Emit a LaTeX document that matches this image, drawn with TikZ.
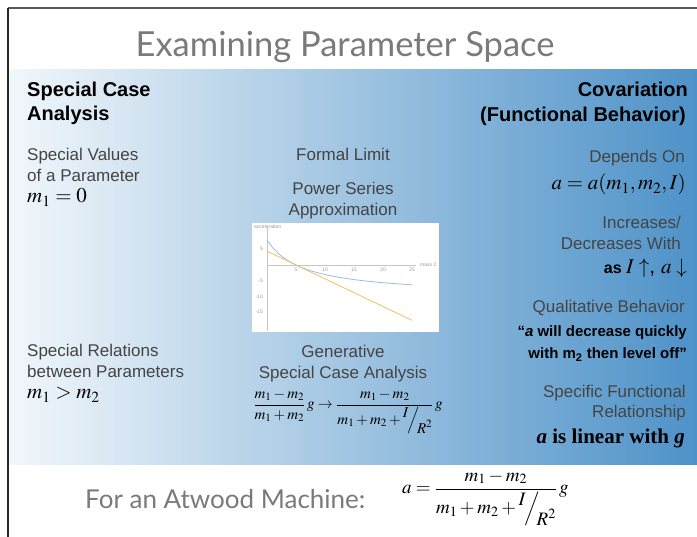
\documentclass[tikz,border=0pt]{standalone}
\usepackage{amsmath}
\usepackage{mathptmx}
\usepackage[no-math]{fontspec}
\setmainfont{Liberation Sans}
\newfontfamily\titlefont{Lato}
\newfontfamily\serifbold{Liberation Serif}
\usetikzlibrary{positioning}

\definecolor{ttlgray}{HTML}{7A7A7A}
\definecolor{lblgray}{HTML}{444444}
\definecolor{gradL}{HTML}{F2F7FB}
\definecolor{gradM}{HTML}{C3DAEC}
\definecolor{gradR}{HTML}{4E92C8}
\definecolor{curveblue}{HTML}{9DBCE0}
\definecolor{curveorange}{HTML}{F2C060}

% slanted fraction I / R^2
\newcommand{\slfrac}[2]{\raisebox{0.45em}{$#1$}\kern-0.1em\Big/\kern-0.15em\raisebox{-0.6em}{$#2$}}

\begin{document}
\begin{tikzpicture}[x=1pt, y=-1pt,
  title/.style = {inner sep=0, anchor=base, text=ttlgray, font=\titlefont\fontsize{34.5}{38}\selectfont},
  head/.style = {inner sep=0, font=\bfseries\fontsize{20}{24}\selectfont},
  lbl/.style = {inner sep=0, text=lblgray, font=\fontsize{17}{21}\selectfont},
  mth/.style = {inner sep=0, font=\fontsize{21}{25}\selectfont},
  quote/.style = {inner sep=0, anchor=base east, font=\bfseries\fontsize{15}{19}\selectfont},
  tick/.style = {inner sep=0, text=gray!80, font=\fontsize{5}{6}\selectfont},
  axis/.style = {draw=gray!45, line width=0.4pt}]

\useasboundingbox (0,0) rectangle (697,537);
\shade[left color=gradL, middle color=gradM, right color=gradR] (8,70) rectangle (697,465);
\draw[gray!70!black, line width=1.2pt] (8,8) -- (697,8);
\draw[black!85, line width=1.4pt] (8,8) -- (8,537);

\node[title] (title) at (345,57) {Examining Parameter Space};

% left column
\node[head, anchor=base west] (sca1) at (27,97) {Special Case};
\node[head, anchor=base west] (sca2) at (27,121) {Analysis};
\node[lbl, anchor=base west] (sv1) at (27,161) {Special Values};
\node[lbl, anchor=base west] (sv2) at (27,182) {of a Parameter};
\node[mth, anchor=base west] (sv3) at (27,203) {$m_1=0$};
\node[lbl, anchor=base west] (sr1) at (27,357) {Special Relations};
\node[lbl, anchor=base west] (sr2) at (27,378) {between Parameters};
\node[mth, anchor=base west] (sr3) at (27,399) {$m_1>m_2$};

% middle column
\node[lbl, anchor=base] (fl) at (343,161) {Formal Limit};
\node[lbl, anchor=base] (ps1) at (343,195) {Power Series};
\node[lbl, anchor=base] (ps2) at (343,216) {Approximation};

% plot
\fill[white] (252,223) rectangle (439,332);
\draw[axis] (267,228) -- (267,331);
\draw[axis] (267,265) -- (416,265);
\node[tick, anchor=base west] (ylab) at (254,229) {acceleration};
\node[tick, anchor=west] (xlab) at (420,265) {mass 2};
\foreach \t in {5,10,15,20,25}
  \node[tick, anchor=north] (xt\t) at ({267+5.8*\t},268) {\t};
\foreach \t in {5,-5,-10,-15}
  \node[tick, anchor=east] (yt\t) at (263,{265-3.14*\t}) {\t};
\draw[curveblue, line width=0.8pt] plot[domain=0:25, samples=80, smooth]
  ({267+5.8*\x},{265-30.772*(5-\x)/(6.125+\x)});
\draw[curveorange, line width=0.8pt] plot[domain=0:25, samples=2]
  ({267+5.8*\x},{265+2.766*(\x-5)});

\node[lbl, anchor=base] (gen1) at (343,358) {Generative};
\node[lbl, anchor=base] (gen2) at (343,379) {Special Case Analysis};
\node[inner sep=0, font=\fontsize{15}{18}\selectfont] (gen3) at (348,412)
  {$\dfrac{m_1-m_2}{m_1+m_2}\,g\rightarrow\dfrac{m_1-m_2}{m_1+m_2+\slfrac{I}{R^2}}\,g$};

% right column
\node[head, anchor=base east] (cov1) at (688,97) {Covariation};
\node[head, anchor=base east] (cov2) at (686,122) {(Functional Behavior)};
\node[lbl, anchor=base east] (dep1) at (685,163) {Depends On};
\node[mth, anchor=base east] (dep2) at (686,190) {$a=a(m_1,m_2,I)$};
\node[lbl, anchor=base east] (inc1) at (681,229) {Increases/};
\node[lbl, anchor=base east] (inc2) at (681,250) {Decreases With};
\node[mth, anchor=base east] (inc3) at (687,274)
  {{\bfseries\fontsize{16}{19}\selectfont as }$I\uparrow$, $a\downarrow$};
\node[lbl, anchor=base east] (qb1) at (685,313) {Qualitative Behavior};
\node[quote] (qb2) at (687,337) {\textquotedblleft\textit{a} will decrease quickly};
\node[quote] (qb3) at (687,359) {with m\textsubscript{2} then level off\textquotedblright};
\node[lbl, anchor=base east] (sf1) at (686,398) {Specific Functional};
\node[lbl, anchor=base east] (sf2) at (686,418) {Relationship};
\node[inner sep=0, anchor=base east, font=\serifbold\bfseries\fontsize{21}{25}\selectfont] (sf3) at (685,444)
  {\textit{a} is linear with \textit{g}};

% bottom line
\node[inner sep=0, anchor=base west, text=ttlgray, font=\titlefont\fontsize{26}{30}\selectfont] (atw) at (85,509) {For an Atwood Machine:};
\node[inner sep=0, anchor=west, font=\fontsize{19}{23}\selectfont] (atweq) at (402,498)
  {$a=\dfrac{m_1-m_2}{m_1+m_2+\slfrac{I}{R^2}}\,g$};

\end{tikzpicture}
\end{document}
